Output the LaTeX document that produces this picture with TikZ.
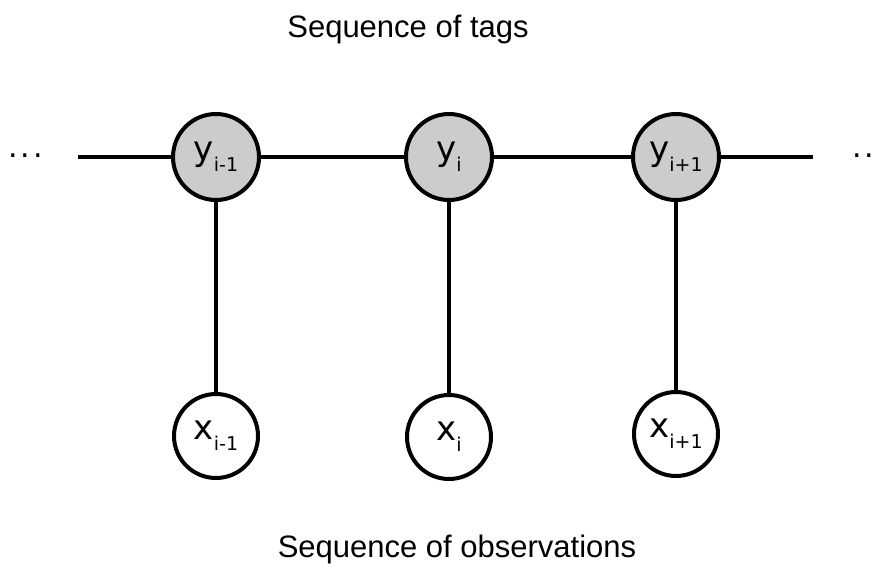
\documentclass[tikz,border=0pt]{standalone}
\usepackage{fontspec}
\setmainfont{Liberation Sans}
\newfontfamily\labfont{DejaVu Sans}
\definecolor{tagfill}{RGB}{204,204,204}
% variable name with a lowered index
\newcommand{\varlab}[2]{{\labfont\fontsize{34}{34}\selectfont #1\raisebox{-11pt}{\fontsize{19}{19}\selectfont #2}}}

\begin{document}
\begin{tikzpicture}[x=1pt,y=-1pt,
  var/.style={circle, draw=black, line width=4pt, inner sep=0pt},
  tag/.style={var, fill=tagfill, minimum size=86pt},
  obs/.style={var, fill=white, minimum size=84pt},
  edge/.style={line width=4pt},
  title/.style={font=\fontsize{31}{31}\selectfont, anchor=base},
  more/.style={font=\labfont\fontsize{30}{30}\selectfont, inner sep=0pt, anchor=west}]
\useasboundingbox (0,0) rectangle (876,574);
\clip (0,0) rectangle (876,574);

% hidden tag chain
\node[tag] (y1) at (216,157) {\varlab{y}{i-1}};
\node[tag] (y2) at (449,157) {\varlab{y}{i}};
\node[tag] (y3) at (676,157) {\varlab{y}{i+1}};

% observed tokens
\node[obs] (x1) at (216,436) {\varlab{x}{i-1}};
\node[obs] (x2) at (449,437) {\varlab{x}{i}};
\node[obs] (x3) at (676,434) {\varlab{x}{i+1}};

% chain continues on both sides
\coordinate (lend) at (78,157);
\coordinate (rend) at (813,157);
\node[more] (ldots) at (8,156) {.\kern3pt.\kern3pt.};
\node[more] (rdots) at (852,156) {.\kern3pt.};

\draw[edge] (lend) -- (y1);
\draw[edge] (y1) -- (y2);
\draw[edge] (y2) -- (y3);
\draw[edge] (y3) -- (rend);

\draw[edge] (y1) -- (x1);
\draw[edge] (y2) -- (x2);
\draw[edge] (y3) -- (x3);

% captions
\node[title] (tagtitle) at (408,37) {Sequence of tags};
\node[title] (obstitle) at (457,557) {Sequence of observations};
\end{tikzpicture}
\end{document}
